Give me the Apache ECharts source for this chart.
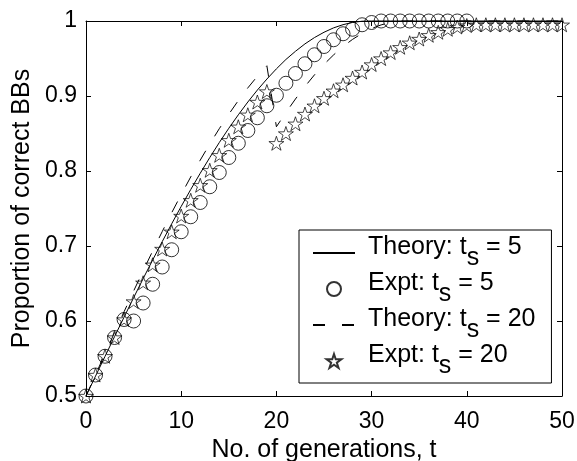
<!DOCTYPE html>
<html>
<head>
<meta charset="utf-8">
<script src="https://cdn.jsdelivr.net/npm/echarts@6/dist/echarts.min.js"></script>
<style>
  html, body { margin: 0; padding: 0; background: #fff; }
  #chart { width: 577px; height: 461px; }
</style>
</head>
<body>
<div id="chart"></div>
<script>
// Generation index t for the theory curves and the star series
const generations = [0,1,2,3,4,5,6,7,8,9,10,11,12,13,14,15,16,17,18,19,20,
  21,22,23,24,25,26,27,28,29,30,31,32,33,34,35,36,37,38,39,40,
  41,42,43,44,45,46,47,48,49,50];

// Model prediction, switch at t_s = 5
const theoryTs5 = [0.5, 0.5265, 0.5529, 0.5792, 0.6052, 0.6310, 0.6564, 0.6813, 0.7057, 0.7296,
  0.7528, 0.7753, 0.7970, 0.8179, 0.8379, 0.8570, 0.8749, 0.8920, 0.9079, 0.9226,
  0.9362, 0.9487, 0.9596, 0.9695, 0.9779, 0.9850, 0.9908, 0.9951, 0.9981, 0.9997,
  1, 1, 1, 1, 1, 1, 1, 1, 1, 1, 1, 1, 1, 1, 1, 1, 1, 1, 1, 1, 1];

// Measured proportion, t_s = 5 (t = 0 .. 40)
const exptTs5 = [0.5, 0.528, 0.553, 0.578, 0.602, 0.600, 0.624, 0.649, 0.672, 0.695,
  0.719, 0.739, 0.758, 0.779, 0.798, 0.818, 0.837, 0.854, 0.871, 0.887,
  0.901, 0.917, 0.930, 0.943, 0.955, 0.966, 0.975, 0.983, 0.989, 0.995,
  0.998, 1, 1, 1, 1, 1, 1, 1, 1, 1, 1];

// Model prediction, switch at t_s = 20
const theoryTs20 = [0.5, 0.5283, 0.5566, 0.5846, 0.6124, 0.6399, 0.6668, 0.6933, 0.7191, 0.7443,
  0.7686, 0.7921, 0.8145, 0.8360, 0.8564, 0.8757, 0.8939, 0.9108, 0.9263, 0.9403,
  0.8590, 0.8779, 0.8960, 0.9127, 0.9282, 0.9422, 0.9547, 0.9660, 0.9755, 0.9835,
  0.9900, 0.9948, 0.9981, 0.9998, 1, 1, 1, 1, 1, 1, 1, 1, 1, 1, 1, 1, 1, 1, 1, 1, 1];

// Measured proportion, t_s = 20 (t = 0 .. 50)
const exptTs20 = [0.5, 0.528, 0.553, 0.578, 0.602, 0.626, 0.651, 0.675, 0.696, 0.719,
  0.740, 0.761, 0.781, 0.801, 0.821, 0.841, 0.859, 0.875, 0.892, 0.906,
  0.837, 0.850, 0.863, 0.876, 0.887, 0.897, 0.907, 0.915, 0.924, 0.932,
  0.942, 0.950, 0.958, 0.965, 0.971, 0.976, 0.981, 0.985, 0.989, 0.992,
  0.994, 0.995, 0.995, 0.995, 0.995, 0.995, 0.995, 0.995, 0.995, 0.995, 0.995];

// Axis ranges and labels
const xRange = [0, 50], xStep = 10;
const yRange = [0.5, 1], yStep = 0.1;
const xTitle = 'No. of generations, t';
const yTitle = 'Proportion of correct BBs';
const seriesNames = ['Theory: t_s = 5', 'Expt: t_s = 5', 'Theory: t_s = 20', 'Expt: t_s = 20'];

const FONT = '"Liberation Sans", Arial, Helvetica, sans-serif';
const STAR = 'path://M50,0L61.23,34.55L97.55,34.55L68.16,55.9L79.39,90.45L50,69.1L20.61,90.45L31.84,55.9L2.45,34.55L38.77,34.55Z';

const pairs = (ys) => ys.map((y, i) => [generations[i], y]);

const axisCommon = {
  axisLine: { show: true, onZero: false, lineStyle: { color: '#000', width: 1 } },
  axisTick: { show: true, inside: true, length: 5, lineStyle: { color: '#000', width: 1 } },
  splitLine: { show: false }
};

// line entries in the legend show only their stroke, no marker
const hiddenMarker = { color: 'rgba(0,0,0,0)', borderColor: 'rgba(0,0,0,0)', borderWidth: 0, opacity: 0 };

const chart = echarts.init(document.getElementById('chart'), null, { renderer: 'canvas' });

chart.setOption({
  animation: false,
  backgroundColor: '#fff',
  color: ['#000'],
  textStyle: { fontFamily: FONT },
  grid: { left: 86, right: 15, top: 21, bottom: 65, containLabel: false, outerBoundsMode: 'none' },
  xAxis: [
    Object.assign({
      type: 'value', min: xRange[0], max: xRange[1], interval: xStep, position: 'bottom',
      axisLabel: { color: '#000', fontSize: 23, margin: 14, fontFamily: FONT },
      name: xTitle, nameLocation: 'middle', nameGap: 37,
      nameTextStyle: { color: '#000', fontSize: 25, fontFamily: FONT }
    }, axisCommon),
    Object.assign({
      type: 'value', min: xRange[0], max: xRange[1], interval: xStep, position: 'top',
      axisLabel: { show: false }
    }, axisCommon)
  ],
  yAxis: [
    Object.assign({
      type: 'value', min: yRange[0], max: yRange[1], interval: yStep, position: 'left',
      axisLabel: { color: '#000', fontSize: 23, margin: 9, fontFamily: FONT },
      name: yTitle, nameLocation: 'middle', nameGap: 48, nameRotate: 90,
      nameTextStyle: { color: '#000', fontSize: 25, fontFamily: FONT }
    }, axisCommon),
    Object.assign({
      type: 'value', min: yRange[0], max: yRange[1], interval: yStep, position: 'right',
      axisLabel: { show: false }
    }, axisCommon)
  ],
  legend: {
    show: true,
    orient: 'vertical',
    left: 299, top: 230,
    padding: [5, 16, 4, 13],
    itemGap: 0,
    itemWidth: 42, itemHeight: 14,
    backgroundColor: '#fff',
    borderColor: '#000', borderWidth: 1, borderRadius: 0,
    selectedMode: false,
    data: [
      { name: seriesNames[0], itemStyle: hiddenMarker },
      { name: seriesNames[1] },
      { name: seriesNames[2], itemStyle: hiddenMarker },
      { name: seriesNames[3] }
    ],
    formatter: (name) => {
      const parts = name.split('_s');
      return '{m0|' + parts[0] + '}{s|s}{m|' + parts[1] + '}';
    },
    textStyle: {
      color: '#000', fontSize: 25, fontFamily: FONT,
      rich: {
        m0: { color: '#000', fontSize: 25, fontFamily: FONT, verticalAlign: 'top', padding: [0, 0, 0, 8] },
        m: { color: '#000', fontSize: 25, fontFamily: FONT, verticalAlign: 'top' },
        s: { color: '#000', fontSize: 25, fontFamily: FONT, verticalAlign: 'top', padding: [11, 0, 0, 0] }
      }
    }
  },
  series: [
    {
      name: seriesNames[0], type: 'line', data: pairs(theoryTs5),
      symbol: 'none', showSymbol: false, clip: false, z: 3,
      itemStyle: { color: '#000' },
      lineStyle: { color: '#000', width: 1, type: 'solid' },
      emphasis: { disabled: true }
    },
    {
      name: seriesNames[1], type: 'scatter', data: pairs(exptTs5),
      symbol: 'circle', symbolSize: 14, clip: false, z: 4,
      itemStyle: { color: 'rgba(0,0,0,0)', borderColor: '#000', borderWidth: 1 },
      emphasis: { disabled: true }
    },
    {
      name: seriesNames[2], type: 'line', data: pairs(theoryTs20),
      symbol: 'none', showSymbol: false, clip: false, z: 3,
      itemStyle: { color: '#000' },
      lineStyle: { color: '#000', width: 1, type: [12, 17] },
      emphasis: { disabled: true }
    },
    {
      name: seriesNames[3], type: 'scatter', data: pairs(exptTs20),
      symbol: STAR, symbolSize: [15, 14], clip: false, z: 4,
      itemStyle: { color: 'rgba(0,0,0,0)', borderColor: '#000', borderWidth: 0.9 },
      emphasis: { disabled: true }
    }
  ]
});
</script>
</body>
</html>
